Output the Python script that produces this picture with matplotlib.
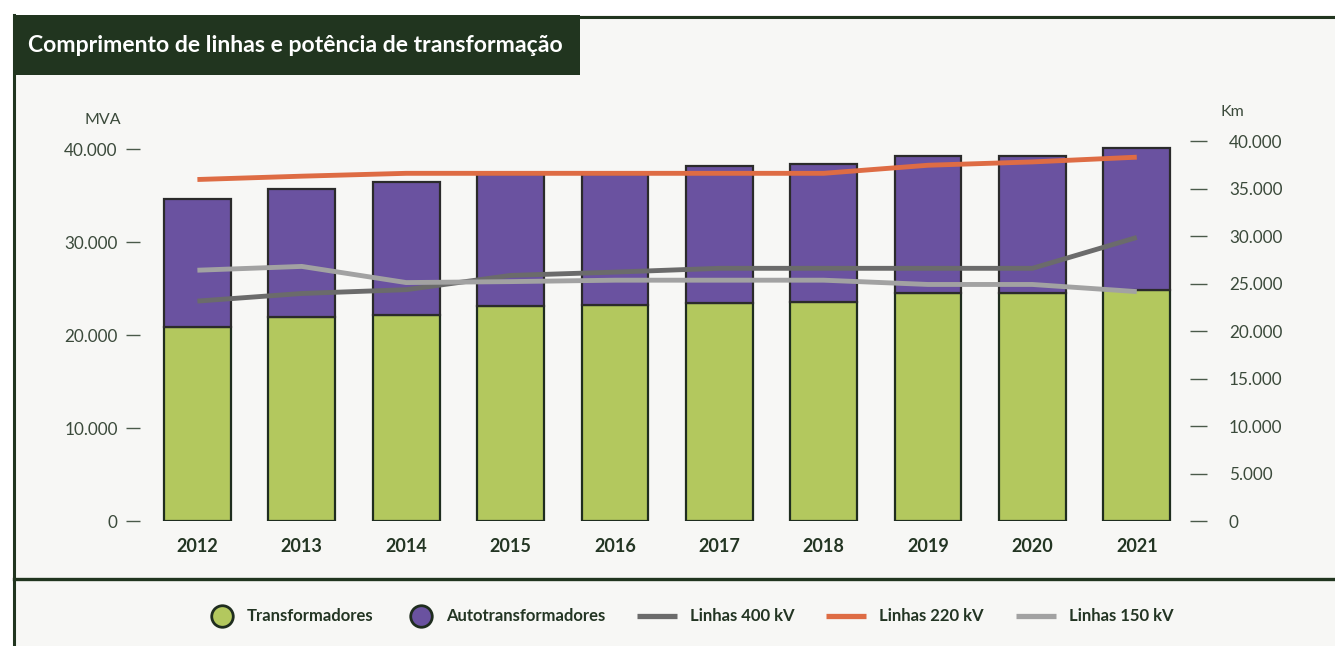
import numpy as np
import matplotlib.pyplot as plt
from matplotlib.lines import Line2D
from matplotlib.patches import Rectangle

plt.rcParams['font.family'] = ['Lato', 'DejaVu Sans']

years = ["2012", "2013", "2014", "2015", "2016", "2017", "2018", "2019", "2020", "2021"]
# MVA
transformadores = [20900, 22000, 22150, 23150, 23200, 23500, 23600, 24500, 24500, 24900]
totais_mva = [34650, 35700, 36500, 37300, 37300, 38200, 38450, 39300, 39300, 40150]
autotransformadores = [t - a for t, a in zip(totais_mva, transformadores)]
# Km
linhas_400 = [23150, 23950, 24350, 25850, 26200, 26600, 26600, 26600, 26600, 29850]
linhas_220 = [35950, 36300, 36600, 36600, 36600, 36600, 36600, 37450, 37800, 38300]
linhas_150 = [26400, 26800, 25100, 25200, 25350, 25350, 25350, 24900, 24900, 24150]

bg = '#f7f7f5'
dark = '#21351f'
txt = '#3b4a3b'
c_green = '#b3c85e'
c_purple = '#6a52a0'
c_400 = '#6b6b6b'
c_220 = '#de6c44'
c_150 = '#a2a2a2'

W, H = 1335, 646
fig = plt.figure(figsize=(W / 100, H / 100), dpi=100)
fig.patch.set_facecolor('white')


def fx(px):
    return px / W


def fy(py):
    return 1 - py / H


# panel background and frame
fig.add_artist(Rectangle((fx(14), 0), 1, fy(15), transform=fig.transFigure,
                         facecolor=bg, edgecolor='none', zorder=-10))
fig.add_artist(Line2D([fx(14), fx(14)], [0, fy(15)], transform=fig.transFigure, color=dark, lw=2.2))
fig.add_artist(Line2D([fx(580), 1], [fy(16.5), fy(16.5)], transform=fig.transFigure, color=dark, lw=2.2))
fig.add_artist(Line2D([fx(14), 1], [fy(578.5), fy(578.5)], transform=fig.transFigure, color=dark, lw=2.4))
fig.add_artist(Rectangle((fx(13), fy(75)), 567 / W, 60 / H, transform=fig.transFigure,
                         facecolor=dark, edgecolor='none', zorder=5))
fig.text(fx(28), fy(46), "Comprimento de linhas e potência de transformação",
         color='white', fontsize=16.6, fontweight='bold', va='center', ha='left', zorder=6)

ax = fig.add_axes([fx(140), fy(521), 1050 / W, (521 - 130.8) / H])
ax.set_facecolor('none')
x = np.arange(len(years))
ax.bar(x, transformadores, width=0.64, color=c_green, edgecolor='#1f2d1f', linewidth=1.6, zorder=2)
ax.bar(x, autotransformadores, bottom=transformadores, width=0.64, color=c_purple,
       edgecolor='#2b2b2b', linewidth=1.6, zorder=2)
ax.set_xlim(-0.55, 9.51)
ax.set_ylim(0, 42000)
ax.set_yticks([0, 10000, 20000, 30000, 40000])
ax.set_yticklabels(["0", "10.000", "20.000", "30.000", "40.000"])
ax.set_xticks(x)
ax.set_xticklabels(years, fontsize=13, fontweight='bold', color='#233523')
ax.tick_params(axis='x', length=0, pad=12)
ax.tick_params(axis='y', length=10, width=1, color='#4a5a4a', labelsize=12.3, labelcolor=txt, pad=6)
for s in ax.spines.values():
    s.set_visible(False)
fig.text(fx(121), fy(120), "MVA", ha='right', va='center', fontsize=11.5, color=txt)

ax2 = ax.twinx()
ax2.set_ylim(0, (520 - 130.8) / 0.009475)
ax2.plot(x, linhas_400, color=c_400, lw=3.5, solid_capstyle='butt', zorder=3)
ax2.plot(x, linhas_220, color=c_220, lw=3.5, solid_capstyle='butt', zorder=3)
ax2.plot(x, linhas_150, color=c_150, lw=3.5, solid_capstyle='butt', zorder=3)
ticks_km = list(range(0, 40001, 5000))
ax2.set_yticks(ticks_km)
ax2.set_yticklabels(["0"] + [f"{t // 1000}.000" for t in ticks_km[1:]])
ax2.tick_params(axis='y', length=12, width=1, color='#4a5a4a', labelsize=12.3, labelcolor=txt, pad=16)
for s in ax2.spines.values():
    s.set_visible(False)
fig.text(fx(1220), fy(112), "Km", ha='left', va='center', fontsize=11.5, color=txt)

# legend, laid out as in the original
ly = fy(616)
legend_items = [
    ("circle", c_green, 222, 247, "Transformadores"),
    ("circle", c_purple, 421, 446, "Autotransformadores"),
    ("line", c_400, 637, 690, "Linhas 400 kV"),
    ("line", c_220, 826, 879, "Linhas 220 kV"),
    ("line", c_150, 1016, 1069, "Linhas 150 kV"),
]
for kind, col, hx, tx, label in legend_items:
    if kind == "circle":
        fig.add_artist(Line2D([fx(hx)], [ly], transform=fig.transFigure, marker='o', ls='none',
                              markersize=15.5, markerfacecolor=col, markeredgecolor='#1f2d1f',
                              markeredgewidth=2))
    else:
        fig.add_artist(Line2D([fx(hx), fx(hx + 40)], [ly, ly], transform=fig.transFigure,
                              color=col, lw=3.8, solid_capstyle='butt'))
    fig.text(fx(tx), ly, label, ha='left', va='center', fontsize=12, fontweight='bold',
             color='#233523')

fig.savefig("out.png", dpi=100, facecolor=fig.get_facecolor())
